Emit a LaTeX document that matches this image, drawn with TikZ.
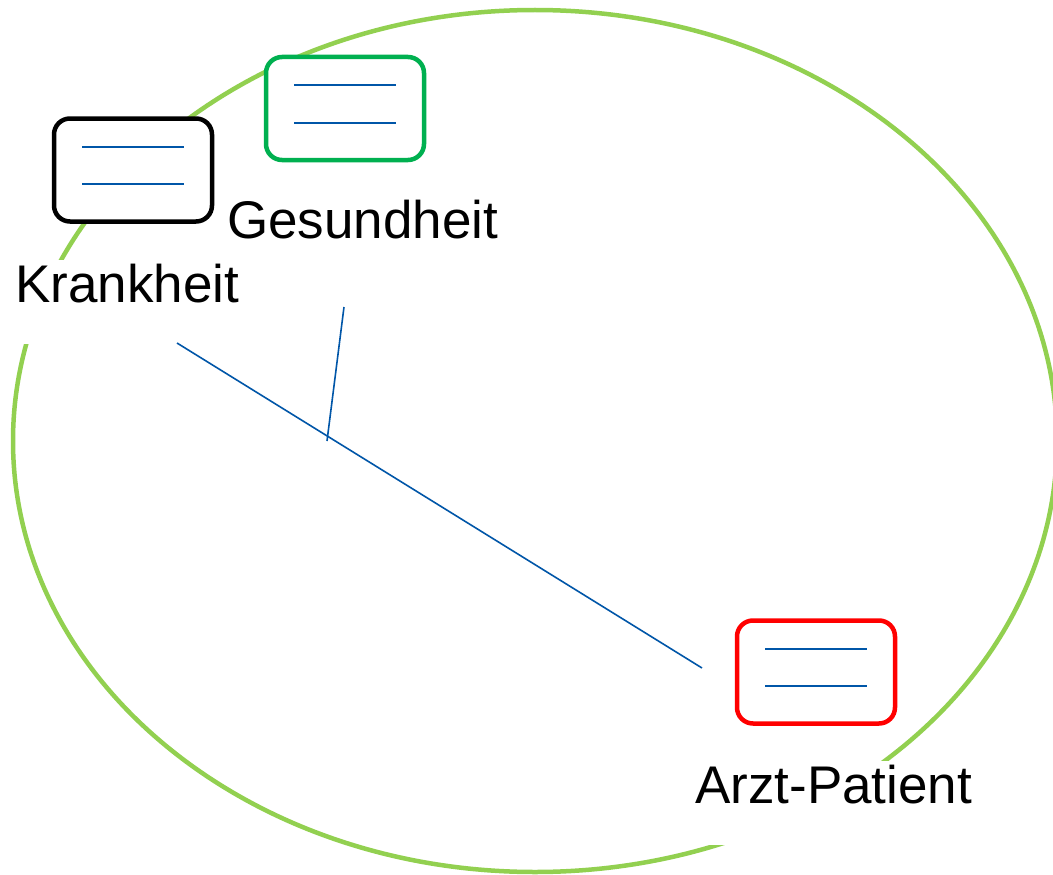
\documentclass[tikz,border=0pt]{standalone}
\usepackage{fontspec}
\setmainfont{Liberation Sans}
\usetikzlibrary{calc}
\definecolor{ellgreen}{RGB}{146,208,80}
\definecolor{boxgreen}{RGB}{0,176,80}
\definecolor{boxred}{RGB}{255,0,0}
\definecolor{lineblue}{RGB}{0,86,168}
\tikzset{
  card/.style={draw=#1, fill=white, line width=4.5pt, rounded corners=16pt,
    minimum width=158pt, minimum height=103pt, inner sep=0pt},
  cardline/.style={draw=lineblue, line width=2pt},
  link/.style={draw=lineblue, line width=1.6pt},
  lbl/.style={fill=white, inner ysep=0pt, inner xsep=4pt, text height=42pt, text depth=42pt,
    font=\fontsize{53}{60}\selectfont, anchor=base west},
}
\begin{document}
\begin{tikzpicture}[x=1pt,y=-1pt]
\useasboundingbox[fill=white] (0,0) rectangle (1053,875);
% big ellipse
\draw[draw=ellgreen, line width=4.5pt] (535,441) ellipse [x radius=522pt, y radius=431pt];
% labels
\node[lbl] (lg) at (223,238) {Gesundheit};
\node[lbl] (lk) at (11,302) {Krankheit};
\node[lbl] (la) at (691,803) {Arzt-Patient};
% connectors
\coordinate (a) at (177,343);
\coordinate (b) at (702,668);
\coordinate (c) at (344,307);
\coordinate (d) at (327,441);
\draw[link] (a) -- (b);
\draw[link] (c) -- (d);
% cards
\node[card=black] (k) at (133,170) {};
\node[card=boxgreen] (g) at (345,108.5) {};
\node[card=boxred] (r) at (816,672) {};
\foreach \n in {k,g,r}{
  \draw[cardline] ($(\n.center)+(-51,-23.5)$) -- ($(\n.center)+(51,-23.5)$);
  \draw[cardline] ($(\n.center)+(-51,14)$) -- ($(\n.center)+(51,14)$);
}
\end{tikzpicture}
\end{document}
